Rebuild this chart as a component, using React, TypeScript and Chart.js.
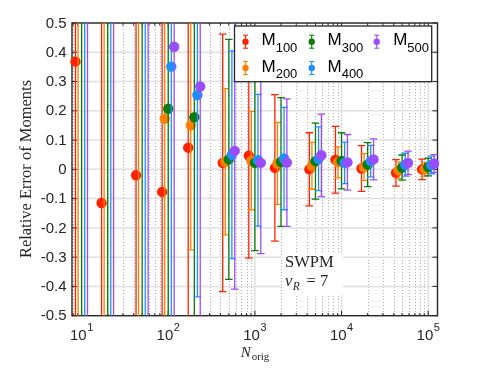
import React, { useEffect, useRef } from 'react';
import { Chart, registerables } from 'chart.js';

Chart.register(...registerables);

// ---------------- data ----------------
const groupN = [10, 20, 50, 100, 200, 500, 1000, 2000, 5000, 10000, 20000, 50000, 100000];

const m100Values = [0.368, -0.115, -0.02, -0.077, 0.074, 0.022, 0.047, 0.005, 0.0, 0.033, 0.003, -0.012, 0.0];
const m100Errors = [1.0, 0.8, 0.7, 0.65, 0.6, 0.44, 0.35, 0.25, 0.125, 0.114, 0.078, 0.045, 0.035];

const m200Values = [0.7, 0.6, 0.55, 0.173, 0.15, 0.026, 0.03, 0.02, 0.012, 0.024, 0.008, -0.003, 0.0];
const m200Errors = [1.3, 1.2, 1.1, 0.75, 0.425, 0.25, 0.168, 0.14, 0.08, 0.053, 0.046, 0.028, 0.023];

const m300Values = [0.9, 0.75, 0.65, 0.207, 0.178, 0.034, 0.022, 0.025, 0.028, 0.029, 0.016, 0.006, 0.008];
const m300Errors = [1.5, 1.35, 1.2, 0.8, 0.7, 0.41, 0.3, 0.22, 0.13, 0.096, 0.075, 0.043, 0.03];

const m400Values = [1.1, 0.9, 0.8, 0.351, 0.254, 0.05, 0.031, 0.037, 0.036, 0.022, 0.028, 0.016, 0.015];
const m400Errors = [1.7, 1.5, 1.35, 0.9, 0.69, 0.355, 0.225, 0.175, 0.109, 0.071, 0.054, 0.039, 0.03];

const m500Values = [1.3, 1.05, 0.95, 0.419, 0.283, 0.063, 0.022, 0.023, 0.048, 0.024, 0.034, 0.022, 0.02];
const m500Errors = [1.9, 1.6, 1.5, 1.0, 0.8, 0.472, 0.31, 0.218, 0.141, 0.095, 0.07, 0.04, 0.03];

const seriesSubscripts = ['100', '200', '300', '400', '500'];

const yTickValues = [0.5, 0.4, 0.3, 0.2, 0.1, 0, -0.1, -0.2, -0.3, -0.4, -0.5];
const yTickLabels = ['0.5', '0.4', '0.3', '0.2', '0.1', '0', '-0.1', '-0.2', '-0.3', '-0.4', '-0.5'];
const xMajorValues = [10, 100, 1000, 10000, 100000];
const xMajorExponents = ['1', '2', '3', '4', '5'];

// ---------------- styling ----------------
const X_MIN = 7.75;
const X_MAX = 1.28e5;
const DODGE = [0.85, 0.91, 1.0, 1.085, 1.17];
const COLORS = ['#ff2200', '#ff8000', '#0a7d0a', '#1e8fff', '#9a4dff'];
const SANS = '"Liberation Sans", Arial, Helvetica, sans-serif';
const SERIF = '"Liberation Serif", "Times New Roman", serif';
const INK = '#262626';

const SERIES = [
  { values: m100Values, errors: m100Errors },
  { values: m200Values, errors: m200Errors },
  { values: m300Values, errors: m300Errors },
  { values: m400Values, errors: m400Errors },
  { values: m500Values, errors: m500Errors },
];

const xMinorValues: number[] = [];
for (let e = 0; e <= 5; e++) {
  for (let m = 2; m <= 9; m++) {
    const v = m * Math.pow(10, e);
    if (v > X_MIN && v < X_MAX) xMinorValues.push(v);
  }
}

function line(ctx: CanvasRenderingContext2D, x1: number, y1: number, x2: number, y2: number) {
  ctx.beginPath();
  ctx.moveTo(x1, y1);
  ctx.lineTo(x2, y2);
  ctx.stroke();
}

function clipArea(ctx: CanvasRenderingContext2D, a: any) {
  ctx.beginPath();
  ctx.rect(a.left, a.top, a.right - a.left, a.bottom - a.top);
  ctx.clip();
}

function drawGridAndAxes(chart: any) {
  const { ctx, chartArea: a, scales } = chart;
  const xs = scales.x;
  const ys = scales.y;
  ctx.save();
  clipArea(ctx, a);
  ctx.strokeStyle = 'rgba(110,110,110,0.55)';
  ctx.lineWidth = 1;
  ctx.setLineDash([1, 2]);
  for (const v of xMinorValues) {
    const px = Math.round(xs.getPixelForValue(v)) + 0.5;
    line(ctx, px, a.top, px, a.bottom);
  }
  ctx.setLineDash([]);
  ctx.strokeStyle = '#e0e0e0';
  ctx.lineWidth = 1.5;
  for (const v of xMajorValues) {
    const px = xs.getPixelForValue(v);
    line(ctx, px, a.top, px, a.bottom);
  }
  for (const v of yTickValues) {
    const py = ys.getPixelForValue(v);
    line(ctx, a.left, py, a.right, py);
  }
  ctx.restore();

  // ticks (inward) + box
  ctx.save();
  ctx.strokeStyle = INK;
  ctx.lineWidth = 1;
  for (const v of xMajorValues) {
    const px = xs.getPixelForValue(v);
    line(ctx, px, a.bottom, px, a.bottom - 5);
    line(ctx, px, a.top, px, a.top + 5);
  }
  for (const v of xMinorValues) {
    const px = xs.getPixelForValue(v);
    line(ctx, px, a.bottom, px, a.bottom - 2.7);
    line(ctx, px, a.top, px, a.top + 2.7);
  }
  for (const v of yTickValues) {
    const py = ys.getPixelForValue(v);
    line(ctx, a.left, py, a.left + 5, py);
    line(ctx, a.right, py, a.right - 5, py);
  }
  ctx.lineWidth = 1.4;
  ctx.strokeRect(a.left, a.top, a.right - a.left, a.bottom - a.top);

  // tick labels
  ctx.fillStyle = INK;
  ctx.font = `15px ${SANS}`;
  ctx.textAlign = 'right';
  ctx.textBaseline = 'middle';
  yTickValues.forEach((v, i) => {
    ctx.fillText(yTickLabels[i], a.left - 5.5, ys.getPixelForValue(v) + 0.5);
  });
  ctx.textBaseline = 'alphabetic';
  ctx.textAlign = 'left';
  xMajorValues.forEach((v, i) => {
    const px = xs.getPixelForValue(v);
    ctx.font = `15px ${SANS}`;
    const wb = ctx.measureText('10').width;
    ctx.font = `11px ${SANS}`;
    const we = ctx.measureText(xMajorExponents[i]).width;
    const x0 = px - (wb + we + 0.5) / 2;
    ctx.font = `15px ${SANS}`;
    ctx.fillText('10', x0, 340);
    ctx.font = `11px ${SANS}`;
    ctx.fillText(xMajorExponents[i], x0 + wb + 0.5, 330.5);
  });

  // axis titles
  ctx.font = `italic 15px ${SERIF}`;
  const nW = ctx.measureText('N').width;
  ctx.font = `11px ${SERIF}`;
  const oW = ctx.measureText('orig').width;
  const xl = 255 - (nW + oW + 1) / 2;
  ctx.font = `italic 15px ${SERIF}`;
  ctx.fillText('N', xl, 356.5);
  ctx.font = `11px ${SERIF}`;
  ctx.fillText('orig', xl + nW + 1, 359.5);

  ctx.translate(31, 169);
  ctx.rotate(-Math.PI / 2);
  ctx.font = `16.5px ${SERIF}`;
  ctx.textAlign = 'center';
  ctx.fillText('Relative Error of Moments', 0, 0);
  ctx.restore();
}

function drawErrorBars(chart: any, index: number) {
  const { ctx, chartArea: a, scales } = chart;
  const s = SERIES[index];
  if (!s) return;
  ctx.save();
  clipArea(ctx, a);
  ctx.strokeStyle = COLORS[index];
  ctx.lineWidth = 1.3;
  groupN.forEach((n, j) => {
    const px = scales.x.getPixelForValue(n * DODGE[index]);
    const pHi = scales.y.getPixelForValue(s.values[j] + s.errors[j]);
    const pLo = scales.y.getPixelForValue(s.values[j] - s.errors[j]);
    line(ctx, px, pLo, px, pHi);
    line(ctx, px - 3.8, pLo, px + 3.8, pLo);
    line(ctx, px - 3.8, pHi, px + 3.8, pHi);
  });
  ctx.restore();
}

function drawOverlays(chart: any) {
  const { ctx } = chart;
  ctx.save();
  // annotation box
  ctx.fillStyle = '#ffffff';
  ctx.fillRect(282, 254, 61, 41);
  ctx.fillStyle = INK;
  ctx.textAlign = 'left';
  ctx.textBaseline = 'alphabetic';
  ctx.font = `16.5px ${SERIF}`;
  ctx.fillText('SWPM', 285, 267.3);
  ctx.font = `italic 16.5px ${SERIF}`;
  ctx.fillText('v', 285, 286);
  const vW = ctx.measureText('v').width;
  ctx.font = `italic 11.5px ${SERIF}`;
  ctx.fillText('R', 285 + vW + 0.5, 290);
  ctx.font = `16.5px ${SERIF}`;
  ctx.fillText('= 7', 306.5, 286);

  // legend
  const bx = 234.5, by = 26, bw = 197.2, bh = 55.7;
  ctx.fillStyle = '#ffffff';
  ctx.fillRect(bx, by, bw, bh);
  ctx.strokeStyle = INK;
  ctx.lineWidth = 1.3;
  ctx.strokeRect(bx, by, bw, bh);
  const iconX = [245.5, 311.7, 376.7];
  const textX = [261.5, 327.5, 393.2];
  const rowY = [41.7, 68.0];
  SERIES.forEach((_, i) => {
    const col = Math.floor(i / 2);
    const row = i % 2;
    const ix = iconX[col];
    const iy = rowY[row];
    ctx.strokeStyle = COLORS[i];
    ctx.lineWidth = 1.1;
    line(ctx, ix, iy - 6.5, ix, iy + 6.5);
    line(ctx, ix - 2.5, iy - 6.5, ix + 2.5, iy - 6.5);
    line(ctx, ix - 2.5, iy + 6.5, ix + 2.5, iy + 6.5);
    ctx.fillStyle = COLORS[i];
    ctx.beginPath();
    ctx.arc(ix, iy, 3.2, 0, Math.PI * 2);
    ctx.fill();
    ctx.fillStyle = '#000000';
    ctx.font = `17px ${SANS}`;
    ctx.fillText('M', textX[col], iy + 3.5);
    const mW = ctx.measureText('M').width;
    ctx.font = `13px ${SANS}`;
    ctx.fillText(seriesSubscripts[i], textX[col] + mW, iy + 10);
  });
  ctx.restore();
}

const figurePlugin = {
  id: 'figurePlugin',
  beforeDatasetsDraw(chart: any) {
    drawGridAndAxes(chart);
  },
  beforeDatasetDraw(chart: any, args: any) {
    drawErrorBars(chart, args.index);
  },
  afterDatasetsDraw(chart: any) {
    drawOverlays(chart);
  },
};

export default function App() {
  const ref = useRef<HTMLCanvasElement>(null);
  useEffect(() => {
    const canvas = ref.current;
    if (!canvas) return;
    const chart = new Chart(canvas, {
      type: 'scatter',
      data: {
        datasets: SERIES.map((s, i) => ({
          label: 'M' + seriesSubscripts[i],
          data: groupN.map((n, j) => ({ x: n * DODGE[i], y: s.values[j] })),
          backgroundColor: COLORS[i],
          borderColor: COLORS[i],
          pointRadius: 5.2,
          pointHoverRadius: 5.2,
          pointBorderWidth: 0,
          order: 5 - i,
          clip: { left: 8, right: 8, top: 0, bottom: 0 },
        })),
      },
      options: {
        animation: false,
        responsive: false,
        devicePixelRatio: 1,
        events: [],
        layout: { padding: { left: 72, right: 55.5, top: 23, bottom: 65.3 } },
        plugins: { legend: { display: false }, tooltip: { enabled: false } },
        scales: {
          x: { type: 'logarithmic', min: X_MIN, max: X_MAX, display: false },
          y: { type: 'linear', min: -0.5, max: 0.5, display: false },
        },
      },
      plugins: [figurePlugin],
    } as any);
    return () => chart.destroy();
  }, []);
  return (
    <div style={{ position: 'absolute', left: 0, top: 0, width: 493, height: 381, background: '#ffffff' }}>
      <canvas ref={ref} width={493} height={381} style={{ display: 'block', width: 493, height: 381 }} />
    </div>
  );
}
